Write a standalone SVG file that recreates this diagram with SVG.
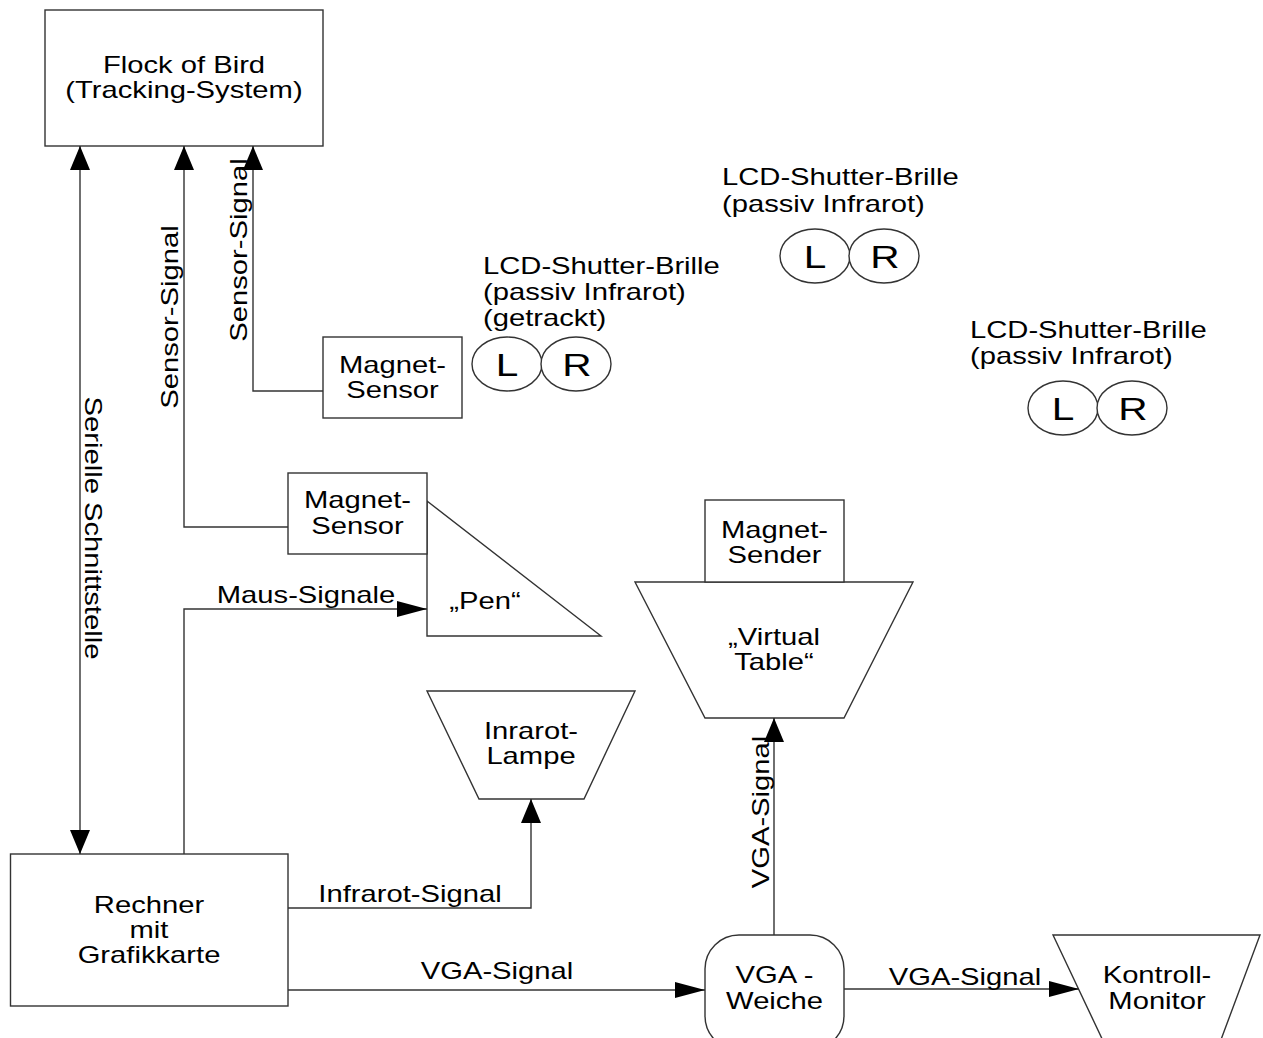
<svg xmlns="http://www.w3.org/2000/svg" width="1263" height="1038" viewBox="0 0 1263 1038">
<style>
.t{font-family:"Liberation Sans",Arial,sans-serif;font-size:23px;fill:#000}
.c{text-anchor:middle}
.big{font-size:32px}
.s{fill:#fff;stroke:#333;stroke-width:1.4}
.w{fill:none;stroke:#333;stroke-width:1.4}
</style>
<defs>
<marker id="av" markerUnits="userSpaceOnUse" markerWidth="24" markerHeight="20" viewBox="0 0 24 20" refX="24" refY="10" orient="auto-start-reverse"><path d="M0,0 L24,10 L0,20 Z" fill="#000"/></marker>
<marker id="ah" markerUnits="userSpaceOnUse" markerWidth="30" markerHeight="16" viewBox="0 0 30 16" refX="30" refY="8" orient="auto"><path d="M0,0 L30,8 L0,16 Z" fill="#000"/></marker>
</defs>
<rect width="1263" height="1038" fill="#fff"/>

<g id="flock">
<rect class="s" x="45" y="10" width="278" height="136"/>
<text class="t c" transform="translate(184,73) scale(1.27,1)"><tspan x="0" y="0">Flock of Bird</tspan><tspan x="0" y="25">(Tracking-System)</tspan></text>
</g>

<g id="magnetsensor1">
<rect class="s" x="323" y="337" width="139" height="81"/>
<text class="t c" transform="translate(392.5,373) scale(1.27,1)"><tspan x="0" y="0">Magnet-</tspan><tspan x="0" y="25">Sensor</tspan></text>
</g>

<g id="pen">
<polygon class="s" points="427,501 601,636 427,636"/>
<text class="t c" transform="translate(485,609) scale(1.27,1)">„Pen“</text>
</g>

<g id="magnetsensor2">
<rect class="s" x="288" y="473" width="139" height="81"/>
<text class="t c" transform="translate(357.5,508) scale(1.27,1)"><tspan x="0" y="0">Magnet-</tspan><tspan x="0" y="26">Sensor</tspan></text>
</g>

<g id="virtualtable">
<polygon class="s" points="635,582 913,582 844,718 705,718"/>
<text class="t c" transform="translate(774,645) scale(1.27,1)"><tspan x="0" y="0">„Virtual</tspan><tspan x="0" y="25">Table“</tspan></text>
</g>

<g id="magnetsender">
<rect class="s" x="705" y="500" width="139" height="82"/>
<text class="t c" transform="translate(774.5,538) scale(1.27,1)"><tspan x="0" y="0">Magnet-</tspan><tspan x="0" y="25">Sender</tspan></text>
</g>

<g id="lampe">
<polygon class="s" points="427,691 635,691 584,799 479,799"/>
<text class="t c" transform="translate(531,739) scale(1.27,1)"><tspan x="0" y="0">Inrarot-</tspan><tspan x="0" y="25">Lampe</tspan></text>
</g>

<g id="rechner">
<rect class="s" x="10.5" y="854" width="277.5" height="152"/>
<text class="t c" transform="translate(149,913) scale(1.27,1)"><tspan x="0" y="0">Rechner</tspan><tspan x="0" y="25">mit</tspan><tspan x="0" y="50">Grafikkarte</tspan></text>
</g>

<g id="weiche">
<rect class="s" x="705" y="935" width="139" height="115" rx="34" ry="34"/>
<text class="t c" transform="translate(774.5,983) scale(1.27,1)"><tspan x="0" y="0">VGA -</tspan><tspan x="0" y="26">Weiche</tspan></text>
</g>

<g id="monitor">
<polygon class="s" points="1053,935 1260,935 1219,1045 1105,1045"/>
<text class="t c" transform="translate(1157,983) scale(1.27,1)"><tspan x="0" y="0">Kontroll-</tspan><tspan x="0" y="26">Monitor</tspan></text>
</g>

<g id="brille1">
<text class="t" transform="translate(483,274) scale(1.27,1)"><tspan x="0" y="0">LCD-Shutter-Brille</tspan><tspan x="0" y="26">(passiv Infrarot)</tspan><tspan x="0" y="52">(getrackt)</tspan></text>
<ellipse class="s" cx="507" cy="364" rx="35" ry="27"/>
<ellipse class="s" cx="576" cy="364" rx="35" ry="27"/>
<text class="t big c" transform="translate(507,375.5) scale(1.27,1)">L</text>
<text class="t big c" transform="translate(577,375.5) scale(1.27,1)">R</text>
</g>

<g id="brille2">
<text class="t" transform="translate(722,185) scale(1.27,1)"><tspan x="0" y="0">LCD-Shutter-Brille</tspan><tspan x="0" y="27">(passiv Infrarot)</tspan></text>
<ellipse class="s" cx="815" cy="256" rx="35" ry="27"/>
<ellipse class="s" cx="884" cy="256" rx="35" ry="27"/>
<text class="t big c" transform="translate(815,267.5) scale(1.27,1)">L</text>
<text class="t big c" transform="translate(885,267.5) scale(1.27,1)">R</text>
</g>

<g id="brille3">
<text class="t" transform="translate(970,338) scale(1.27,1)"><tspan x="0" y="0">LCD-Shutter-Brille</tspan><tspan x="0" y="26">(passiv Infrarot)</tspan></text>
<ellipse class="s" cx="1063" cy="408" rx="35" ry="27"/>
<ellipse class="s" cx="1132" cy="408" rx="35" ry="27"/>
<text class="t big c" transform="translate(1063,419.5) scale(1.27,1)">L</text>
<text class="t big c" transform="translate(1133,419.5) scale(1.27,1)">R</text>
</g>

<g id="connectors">
<path class="w" d="M80,146 V854" marker-start="url(#av)" marker-end="url(#av)"/>
<path class="w" d="M288,527 H184 V146" marker-end="url(#av)"/>
<path class="w" d="M323,391 H253 V146" marker-end="url(#av)"/>
<path class="w" d="M184,854 V609 H427" marker-end="url(#ah)"/>
<path class="w" d="M288,908 H531 V799" marker-end="url(#av)"/>
<path class="w" d="M288,990 H705" marker-end="url(#ah)"/>
<path class="w" d="M774,935 V718" marker-end="url(#av)"/>
<path class="w" d="M844,989 H1079" marker-end="url(#ah)"/>
<text class="t c" transform="translate(85,528) rotate(90) scale(1.27,1)">Serielle Schnittstelle</text>
<text class="t c" transform="translate(178,317) rotate(-90) scale(1.27,1)">Sensor-Signal</text>
<text class="t c" transform="translate(247,250) rotate(-90) scale(1.27,1)">Sensor-Signal</text>
<text class="t c" transform="translate(306,603) scale(1.27,1)">Maus-Signale</text>
<text class="t c" transform="translate(410,902) scale(1.27,1)">Infrarot-Signal</text>
<text class="t c" transform="translate(497,979) scale(1.27,1)">VGA-Signal</text>
<text class="t c" transform="translate(769,812) rotate(-90) scale(1.27,1)">VGA-Signal</text>
<text class="t c" transform="translate(965,985) scale(1.27,1)">VGA-Signal</text>
</g>
</svg>
